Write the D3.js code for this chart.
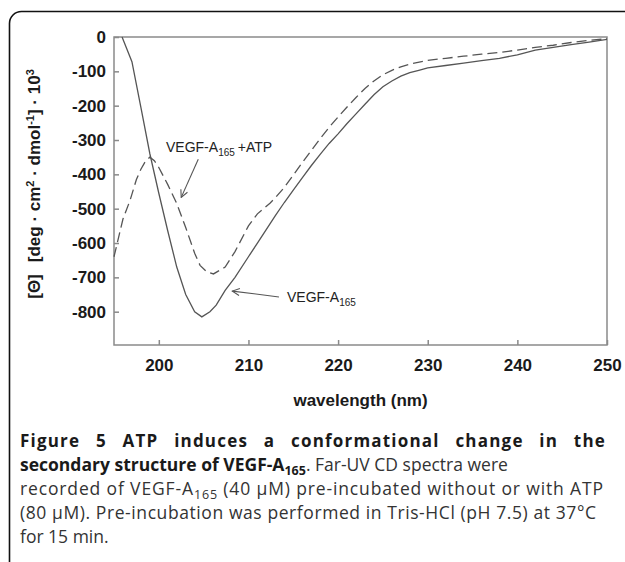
<!DOCTYPE html>
<html lang="en">
<head>
	<meta charset="UTF-8">
	<title>CD spectra</title>
	<style>
		body { margin: 0; background: #fff; }
		svg { display: block; }
	</style>
</head>
<body>
	<script src="https://cdn.jsdelivr.net/npm/d3@7"></script>
	<script>
		// wavelength (nm) / ellipticity
		var wlPlain = [195.9, 197.0, 198.0, 199.0, 200.0, 201.0, 202.0, 203.0, 204.0, 204.8, 205.7, 206.4, 207.4, 208.5, 210.0, 211.0, 212.0, 213.0, 214.0, 215.0, 216.0, 217.0, 218.0, 219.0, 220.0, 221.0, 222.0, 223.0, 224.0, 225.0, 226.0, 227.0, 228.0, 229.0, 230.0, 232.0, 234.0, 236.0, 238.0, 240.0, 242.0, 244.0, 246.0, 248.0, 250.0];
		var cdPlain = [0, -72, -205, -340, -455, -565, -670, -750, -800, -815, -800, -781, -738, -700, -640, -600, -560, -520, -482, -446, -410, -375, -342, -310, -282, -252, -224, -196, -168, -145, -128, -114, -104, -97, -90, -83, -76, -69, -62, -52, -38, -30, -22, -15, -7];

		var wlAtp = [195.0, 195.5, 196.0, 196.8, 197.5, 198.0, 198.5, 199.0, 199.5, 200.0, 201.0, 202.0, 203.0, 204.0, 204.6, 205.3, 206.1, 207.4, 208.5, 210.0, 211.0, 212.4, 213.0, 214.0, 215.0, 216.0, 217.0, 218.0, 219.0, 220.0, 221.0, 222.0, 223.0, 224.0, 225.0, 226.0, 227.0, 228.0, 230.0, 232.0, 234.0, 236.0, 238.0, 240.0, 242.0, 244.0, 246.0, 248.0, 250.0];
		var cdAtp = [-640, -585, -530, -475, -415, -385, -362, -350, -360, -380, -430, -485, -555, -630, -665, -683, -690, -670, -625, -550, -515, -484, -468, -438, -402, -366, -331, -296, -263, -233, -204, -176, -150, -128, -110, -97, -87, -79, -68, -62, -56, -50, -45, -38, -30, -24, -16, -10, -5];

		var xTicks = [200, 210, 220, 230, 240, 250];
		var yTicks = [0, -100, -200, -300, -400, -500, -600, -700, -800];

		var width = 625,
			height = 562,
			pl = 114, pr = 607, pt = 37, pb = 345;

		var x = d3.scaleLinear()
				.domain([195, 250])
				.range([pl, pr]),
			y = d3.scaleLinear()
				.domain([-897, 0])
				.range([pb, pt]);

		var svg = d3.select("body").append("svg")
			.attr("width", width)
			.attr("height", height)

		// rounded figure frame, runs off the right and bottom edges
		svg.append("rect")
			.attr("x", 9.5).attr("y", 11.5)
			.attr("width", 700).attr("height", 620)
			.attr("rx", 12)
			.attr("fill", "none")
			.attr("stroke", "#111")
			.attr("stroke-width", 1.6)

		svg.append("rect")
			.attr("x", pl).attr("y", pt)
			.attr("width", pr - pl).attr("height", pb - pt)
			.attr("fill", "none")
			.attr("stroke", "#8a8a8a")
			.attr("stroke-width", 1.5)

		var plain = function(d){ return String(d); };
		var xAxis = d3.axisBottom(x).tickValues(xTicks).tickFormat(plain).tickSize(-5).tickPadding(14);
		var yAxis = d3.axisLeft(y).tickValues(yTicks).tickFormat(plain).tickSize(-5).tickPadding(8);

		var gx = svg.append("g")
			.attr("transform", "translate(0," + pb + ")")
			.call(xAxis)
		var gy = svg.append("g")
			.attr("transform", "translate(" + pl + ",0)")
			.call(yAxis)

		svg.selectAll(".domain").remove()
		svg.selectAll(".tick line").attr("stroke", "#8a8a8a").attr("stroke-width", 1.5)
		svg.selectAll(".tick text")
			.attr("font-family", "Liberation Sans, Arial, sans-serif")
			.attr("font-weight", "bold")
			.attr("font-size", 17)
			.attr("fill", "#1a1a1a")

		var line = d3.line()
			.x(function(d){ return x(d[0]); })
			.y(function(d){ return y(d[1]); })

		svg.append("path")
			.attr("d", line(d3.zip(wlPlain, cdPlain)))
			.attr("fill", "none")
			.attr("stroke", "#555")
			.attr("stroke-width", 1.3)

		svg.append("path")
			.attr("d", line(d3.zip(wlAtp, cdAtp)))
			.attr("fill", "none")
			.attr("stroke", "#555")
			.attr("stroke-width", 1.3)
			.attr("stroke-dasharray", "10,5")

		// annotations
		var defs = svg.append("defs");
		defs.append("marker")
			.attr("id", "arr")
			.attr("viewBox", "0 0 10 10")
			.attr("refX", 9).attr("refY", 5)
			.attr("markerWidth", 9).attr("markerHeight", 9)
			.attr("markerUnits", "userSpaceOnUse")
			.attr("orient", "auto")
			.append("path")
			.attr("d", "M1,1 L9,5 L1,9")
			.attr("fill", "none")
			.attr("stroke", "#555")
			.attr("stroke-width", 1.2)

		function label(tx, ty, main, sub, tail) {
			var t = svg.append("text")
				.attr("x", tx).attr("y", ty)
				.attr("font-family", "Liberation Sans, Arial, sans-serif")
				.attr("font-size", 14)
				.attr("fill", "#222")
			t.append("tspan").text(main)
			t.append("tspan").attr("dy", 4).attr("font-size", 10).text(sub)
			if (tail) t.append("tspan").attr("dy", -4).attr("dx", 3).text(tail)
		}
		label(166, 152, "VEGF-A", "165", "+ATP")
		label(287, 302, "VEGF-A", "165")

		svg.append("line")
			.attr("x1", x(204.4)).attr("y1", y(-356))
			.attr("x2", x(202.5)).attr("y2", y(-467))
			.attr("stroke", "#555").attr("stroke-width", 1.1)
			.attr("marker-end", "url(#arr)")
		svg.append("line")
			.attr("x1", x(213.4)).attr("y1", y(-757))
			.attr("x2", x(208.2)).attr("y2", y(-740))
			.attr("stroke", "#555").attr("stroke-width", 1.1)
			.attr("marker-end", "url(#arr)")

		// axis titles
		svg.append("text")
			.attr("x", (pl + pr) / 2).attr("y", 406)
			.attr("text-anchor", "middle")
			.attr("font-family", "Liberation Sans, Arial, sans-serif")
			.attr("font-weight", "bold").attr("font-size", 17)
			.attr("fill", "#1a1a1a")
			.text("wavelength (nm)")

		var yt = svg.append("text")
			.attr("transform", "translate(40,184) rotate(-90)")
			.attr("text-anchor", "middle")
			.attr("font-family", "Liberation Sans, Arial, sans-serif")
			.attr("font-weight", "bold").attr("font-size", 17)
			.attr("fill", "#1a1a1a")
		yt.append("tspan").text("[\u0398]")
		yt.append("tspan").attr("dx", 12).text("[deg \u00b7 cm")
		yt.append("tspan").attr("dy", -6).attr("font-size", 11).text("2")
		yt.append("tspan").attr("dy", 6).text(" \u00b7 dmol")
		yt.append("tspan").attr("dy", -6).attr("font-size", 11).text("-1")
		yt.append("tspan").attr("dy", 6).text("] \u00b7 10")
		yt.append("tspan").attr("dy", -6).attr("font-size", 11).text("3")

		// caption
		var capFont = "Open Sans, sans-serif", capX = 20, capSize = 17.5;

		function fit(sel, target, nChars) {
			var w = sel.node().getComputedTextLength();
			if (w < target) sel.attr("letter-spacing", (target - w) / (nChars - 1));
		}

		// first line is justified: a little letter spacing, the rest between words
		var cap1 = "Figure 5 ATP induces a conformational change in the";
		var l1 = svg.append("text")
			.attr("x", capX).attr("y", 447)
			.attr("font-family", capFont).attr("font-size", 17)
			.attr("font-weight", "bold").attr("fill", "#1a1a1a")
			.attr("letter-spacing", 1.2)
			.text(cap1)
		var w1 = l1.node().getComputedTextLength();
		l1.attr("word-spacing", (606 - capX - w1) / 8)

		var l2 = svg.append("text")
			.attr("x", capX).attr("y", 471)
			.attr("font-family", capFont).attr("font-size", capSize)
			.attr("fill", "#333")
		l2.append("tspan").attr("font-weight", "bold").attr("fill", "#1a1a1a").text("secondary structure of VEGF-A")
		l2.append("tspan").attr("font-weight", "bold").attr("fill", "#1a1a1a").attr("dy", 4).attr("font-size", 12.5).text("165")
		l2.append("tspan").attr("dy", -4).text(". Far-UV CD spectra were")

		var l3 = svg.append("text")
			.attr("x", capX).attr("y", 495)
			.attr("font-family", capFont).attr("font-size", capSize)
			.attr("fill", "#333")
		l3.append("tspan").text("recorded of VEGF-A")
		l3.append("tspan").attr("dy", 4).attr("font-size", 12.5).text("165")
		l3.append("tspan").attr("dy", -4).text(" (40 \u03bcM) pre-incubated without or with ATP")
		fit(l3, 603 - capX, 63)

		var cap4 = "(80 \u03bcM). Pre-incubation was performed in Tris-HCl (pH 7.5) at 37\u00b0C";
		var l4 = svg.append("text")
			.attr("x", capX).attr("y", 519)
			.attr("font-family", capFont).attr("font-size", capSize)
			.attr("fill", "#333")
			.text(cap4)
		fit(l4, 596 - capX, cap4.length)

		svg.append("text")
			.attr("x", capX).attr("y", 543)
			.attr("font-family", capFont).attr("font-size", capSize)
			.attr("fill", "#333")
			.text("for 15 min.")
	</script>
</body>
</html>
